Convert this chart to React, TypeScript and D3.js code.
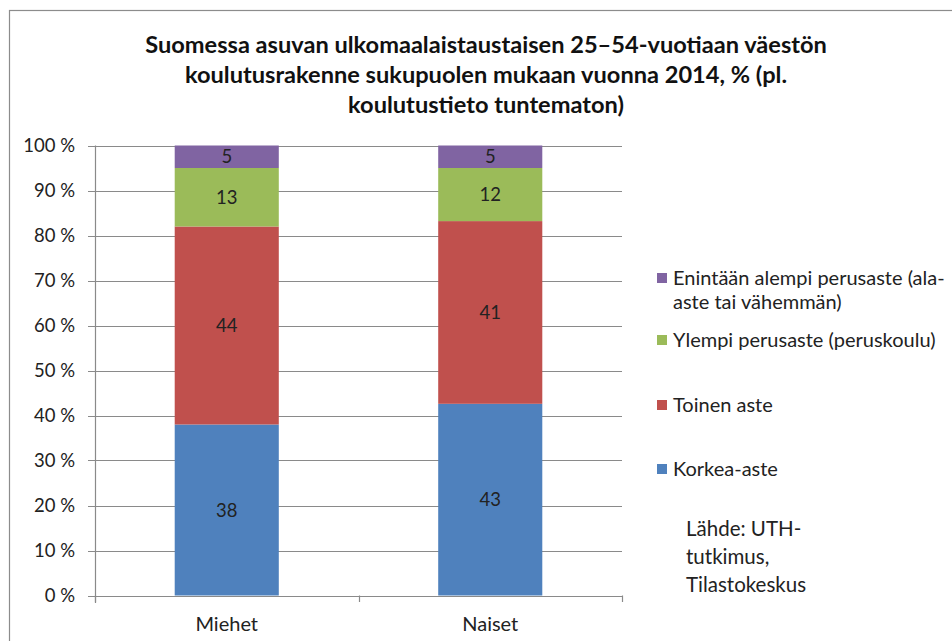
import React from "react";
import * as d3 from "d3";

// chart data
const categories = ["Miehet", "Naiset"];
const korkeaAste = [38, 42.6];
const toinenAste = [44, 40.6];
const ylempiPerusaste = [13, 11.8];
const alempiPerusaste = [5, 5.0];
const seriesKeys = ["korkea", "toinen", "ylempi", "alempi"];
const seriesColors = ["#4F81BD", "#C0504D", "#9BBB59", "#8064A2"];
const legendLines = [
  ["Enintään alempi perusaste (ala-", "aste tai vähemmän)"],
  ["Ylempi perusaste (peruskoulu)"],
  ["Toinen aste"],
  ["Korkea-aste"],
];
const yTicks = [0, 10, 20, 30, 40, 50, 60, 70, 80, 90, 100];
const titleLines = [
  "Suomessa asuvan ulkomaalaistaustaisen 25–54-vuotiaan väestön",
  "koulutusrakenne sukupuolen mukaan vuonna 2014, % (pl.",
  "koulutustieto tuntematon)",
];
const sourceLines = ["Lähde: UTH-", "tutkimus,", "Tilastokeskus"];

const W = 952;
const H = 641;
const font = "Lato, 'DejaVu Sans', sans-serif";

export default function App() {
  const rows = categories.map((c, i) => ({
    cat: c,
    korkea: korkeaAste[i],
    toinen: toinenAste[i],
    ylempi: ylempiPerusaste[i],
    alempi: alempiPerusaste[i],
  }));
  const stacked = d3.stack<any>().keys(seriesKeys)(rows);

  const x = d3.scaleBand().domain(categories).range([95, 622]);
  const y = d3.scaleLinear().domain([0, 100]).range([595.5, 145.5]);
  const barW = x.bandwidth() * 0.395;

  // legend rows (reversed series order, top to bottom)
  const legendY = [278, 340, 405, 469];

  return (
    <svg
      width={W}
      height={H}
      style={{ position: "absolute", left: 0, top: 0, background: "#fff" }}
      fontFamily={font}
    >
      <rect x={9.5} y={10.5} width={W + 10} height={H + 10} fill="#fff" stroke="#8c8c8c" strokeWidth={1.2} />

      {titleLines.map((t, i) => (
        <text key={i} x={486} y={53 + i * 30} textAnchor="middle" fontSize={23.6} fontWeight="bold" fill="#111">
          {t}
        </text>
      ))}

      {/* gridlines + y ticks */}
      {yTicks.map((t) => (
        <g key={t}>
          <line x1={88} x2={622} y1={Math.round(y(t)) + 0.5} y2={Math.round(y(t)) + 0.5} stroke="#8a8a8a" strokeWidth={1.2} />
          <text x={75} y={y(t)} dy="0.36em" textAnchor="end" fontSize={18.5} fill="#222">
            {t} %
          </text>
        </g>
      ))}
      <line x1={95.5} x2={95.5} y1={145.5} y2={603} stroke="#8a8a8a" strokeWidth={1.2} />
      {[95, 95 + x.step(), 622].map((v, i) => (
        <line key={i} x1={Math.round(v) + 0.5} x2={Math.round(v) + 0.5} y1={595.5} y2={602} stroke="#8a8a8a" strokeWidth={1.2} />
      ))}

      {/* bars */}
      {stacked.map((s, si) => (
        <g key={s.key} fill={seriesColors[si]}>
          {s.map((d, i) => {
            const cx = (x(categories[i]) as number) + x.bandwidth() / 2;
            return (
              <g key={i}>
                <rect x={cx - barW / 2} y={y(d[1])} width={barW} height={y(d[0]) - y(d[1])} />
                <text x={cx} y={(y(d[0]) + y(d[1])) / 2} dy="0.36em" textAnchor="middle" fontSize={18.5} fill="#222">
                  {Math.round(d[1] - d[0])}
                </text>
              </g>
            );
          })}
        </g>
      ))}

      {categories.map((c) => (
        <text key={c} x={(x(c) as number) + x.bandwidth() / 2} y={631} textAnchor="middle" fontSize={20} fill="#222">
          {c}
        </text>
      ))}

      {/* legend */}
      {legendLines.map((lines, i) => {
        const color = seriesColors[seriesColors.length - 1 - i];
        return (
          <g key={i}>
            <rect x={657} y={legendY[i] - 5} width={10} height={10} fill={color} />
            {lines.map((l, j) => (
              <text key={j} x={673} y={legendY[i] + j * 24} dy="0.36em" fontSize={20} fill="#222">
                {l}
              </text>
            ))}
          </g>
        );
      })}

      {sourceLines.map((l, i) => (
        <text key={i} x={686} y={536 + i * 28} fontSize={20.5} fill="#222">
          {l}
        </text>
      ))}
    </svg>
  );
}
